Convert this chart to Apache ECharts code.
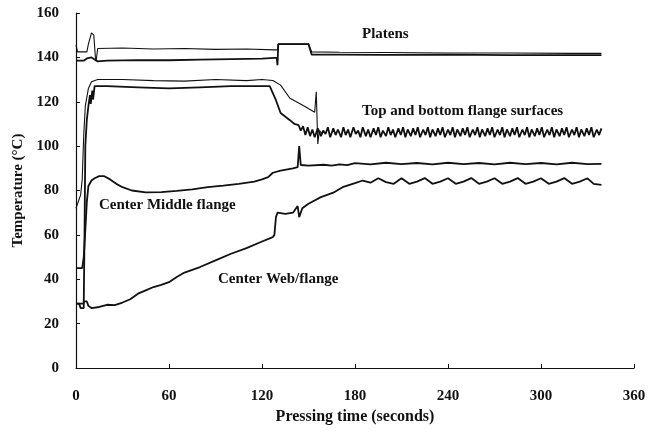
<!DOCTYPE html>
<html>
<head>
<meta charset="utf-8">
<script src="https://cdn.jsdelivr.net/npm/echarts@6/dist/echarts.min.js"></script>
<style>
  html, body { margin: 0; padding: 0; background: #fff; }
  #chart { width: 651px; height: 435px; }
</style>
</head>
<body>
<div id="chart"></div>
<script>
// [time (s), temperature (C)]
var platenUpper = [[0,145.5],[1,142.5],[7,142.5],[8,146],[10,151],[11.5,150],[12.5,140],[13,138.5],[14,144],[30,144.2],[50,143.8],[70,144],[90,143.6],[110,143.8],[128,143.4],[130,143.4],[130.5,146],[150,146],[152,142.5],[170,142.3],[200,142.2],[240,142],[280,142],[320,141.8],[339,141.8]];
var platenLower = [[0,138.5],[5,138.5],[7,139.5],[10,140],[12,139],[14,138.2],[20,138.5],[40,138.8],[60,138.7],[80,139],[100,139.2],[120,139.4],[128,139.8],[129.5,139.8],[130,136.5],[130.5,146],[150,146],[152,141.3],[170,141.2],[200,141.1],[240,141.2],[280,141],[320,141],[339,141]];
var flangeUpper = [[0,72],[3,78],[4,85],[5,105],[6,118],[8,126],[10,129],[14,130],[30,130],[50,129.5],[70,129.3],[90,130],[110,129.5],[120,130],[127,129.6],[132,127.5],[138,121.6],[146,118.5],[154,115.3],[155,124.5],[156,101],[157,107],[159,105.5]];
var flangeLower = [[0,29],[5,29],[5.5,60],[6,100],[7,112],[8,118],[9,123],[9.5,119],[10.5,125],[11,121],[12,127],[20,127],[40,126.5],[60,126],[80,126.5],[100,127],[115,127],[125,127],[129,120.7],[132,114.9],[138,111.7],[141,110],[143.6,109.5],
  [145,107],[146.5,109],[148,105],[149.5,108.5],[151,104.5],[152.5,107.5],[154,104],[156,108],[158,104.5],[159.5,107],[161,105.5],[162.5,108.5],[164,104],[166,108],[167.5,105],[169,107.5],[171,104],[172.5,108.5],[174,105],[175.5,107.5],[177,104],[179,108.5],[180.5,105.5],[182,107],[183.5,104],[185,108.5],[187,104.5],[188.5,107.5],[190,104],[192,108],[193.5,105],[195,108.5],[196.5,104],[198,107],[200,104.5],[201.5,108.5],[203,105],[204.5,107.5],[206,104],[208,108],[209.5,105],[211,108.5],[212.5,104],[214,107.5],[216,104.5],[217.5,108],[219,105],[220.5,108.5],[222,104],[224,107.5],[225.5,105],[227,108.5],[228.5,104],[230,107.5],[232,104.5],[233.5,108],[235,105],[236.5,108.5],[238,104],[240,107.5],[241.5,105],[243,108.5],[244.5,104],[246,107.5],[248,104.5],[249.5,108],[251,105],[252.5,108.5],[254,104],[256,107.5],[257.5,105],[259,108.5],[260.5,104],[262,107.5],[264,104.5],[265.5,108],[267,105],[268.5,108.5],[270,104],[272,107.5],[273.5,105],[275,108.5],[276.5,104],[278,107.5],[280,104.5],[281.5,108],[283,105],[284.5,108.5],[286,104],[288,107.5],[289.5,105],[291,108.5],[292.5,104],[294,107.5],[296,104.5],[297.5,108],[299,105],[300.5,108.5],[302,104],[304,107.5],[305.5,105],[307,108.5],[308.5,104],[310,107.5],[312,104.5],[313.5,108],[315,105],[316.5,108.5],[318,104],[320,107.5],[321.5,105],[323,108.5],[324.5,104],[326,107.5],[328,104.5],[329.5,108],[331,105],[332.5,108.5],[334,104],[336,107.5],[337.5,105],[339,108]];
var middleFlange = [[0,45],[4,45],[5,50],[6,62],[7,75],[8,82],[10,84.5],[12,85.5],[15,86.5],[18,86.5],[22,85],[26,83],[30,81.5],[36,80],[45,79.2],[55,79.3],[65,79.8],[75,80.5],[85,81.5],[95,82.2],[105,83],[115,84],[120,85],[124,86],[127,88],[132,89],[140,90],[143,90.5],[144,100],[145,91.5],[150,91.2],[160,91.6],[165,91.2],[170,91.8],[175,91.4],[180,92.3],[190,91.8],[200,92.5],[210,91.9],[220,92.4],[230,91.8],[240,92.5],[250,91.9],[260,92.4],[270,91.8],[280,92.5],[290,91.9],[300,92.4],[310,91.8],[320,92.5],[330,91.9],[339,92]];
var webFlange = [[0,29],[2,29],[3,27],[5,27],[5,30],[7,30],[8,28],[10,27],[15,27.5],[20,28.5],[25,28.3],[30,29.5],[35,31],[40,33.5],[45,35],[50,36.5],[55,37.5],[60,38.7],[65,41],[70,43],[80,45.5],[90,48.5],[100,51.5],[110,54],[120,57],[127,59],[128,60],[129,68],[130,70],[135,69.5],[140,70],[143,73],[144,68],[146,72],[150,74],[158,77],[166,79],[172,81.5],[180,83.3],[185,84.5],[190,83.5],[195,85.5],[200,83.8],[205,83],[210,85.5],[215,83],[220,84],[225,85.6],[230,83],[235,84],[240,85.5],[245,83],[250,84],[255,85.6],[260,83],[265,84],[270,85.5],[275,83],[280,84],[285,85.6],[290,83],[295,84],[300,85.5],[305,83],[310,84],[315,85.6],[320,83],[325,84],[330,85.5],[334,83],[339,82.5]];

var xTicks = {min: 0, max: 360, interval: 60};
var yTicks = {min: 0, max: 160, interval: 20};

var serif = '"Liberation Serif", "DejaVu Serif", serif';

var chart = echarts.init(document.getElementById('chart'));

function line(data, width) {
  return {
    type: 'line',
    data: data,
    showSymbol: false,
    symbol: 'none',
    smooth: false,
    lineStyle: { color: '#111', width: width },
    animation: false
  };
}

var option = {
  animation: false,
  grid: { left: 76, right: 17, top: 13, bottom: 67 },
  xAxis: {
    type: 'value',
    min: xTicks.min, max: xTicks.max, interval: xTicks.interval,
    name: 'Pressing time (seconds)',
    nameLocation: 'middle',
    nameGap: 32,
    nameTextStyle: { fontFamily: serif, fontWeight: 'bold', fontSize: 16, color: '#111' },
    axisLine: { lineStyle: { color: '#111', width: 1.2 } },
    axisTick: { inside: true, length: 4, lineStyle: { color: '#111' } },
    axisLabel: { fontFamily: serif, fontWeight: 'bold', fontSize: 15, color: '#111', margin: 21 },
    splitLine: { show: false }
  },
  yAxis: {
    type: 'value',
    min: yTicks.min, max: yTicks.max, interval: yTicks.interval,
    name: 'Temperature (°C)',
    nameLocation: 'middle',
    nameGap: 48,
    nameTextStyle: { fontFamily: serif, fontWeight: 'bold', fontSize: 15, color: '#111' },
    axisLine: { show: true, lineStyle: { color: '#111', width: 1.2 } },
    axisTick: { show: true, inside: true, length: 4, lineStyle: { color: '#111' } },
    axisLabel: { fontFamily: serif, fontWeight: 'bold', fontSize: 15, color: '#111', margin: 17 },
    splitLine: { show: false }
  },
  graphic: [
    { type: 'text', left: 362, top: 27, style: { text: 'Platens', font: 'bold 15px ' + serif, fill: '#111' } },
    { type: 'text', left: 362, top: 104, style: { text: 'Top and bottom flange surfaces', font: 'bold 15px ' + serif, fill: '#111' } },
    { type: 'text', left: 99, top: 198, style: { text: 'Center Middle flange', font: 'bold 15px ' + serif, fill: '#111' } },
    { type: 'text', left: 218, top: 272, style: { text: 'Center Web/flange', font: 'bold 15px ' + serif, fill: '#111' } }
  ],
  series: [
    line(platenUpper, 1.1),
    line(platenLower, 1.8),
    line(flangeUpper, 1.1),
    line(flangeLower, 1.8),
    line(middleFlange, 1.8),
    line(webFlange, 1.8)
  ]
};
chart.setOption(option);
</script>
</body>
</html>
